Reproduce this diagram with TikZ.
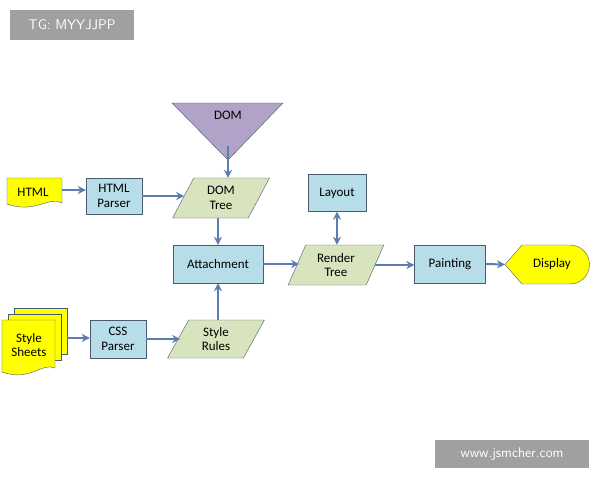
\documentclass[tikz,border=0pt]{standalone}
\usepackage{fontspec}
\setmainfont{Carlito}
\usetikzlibrary{shapes.geometric,arrows.meta}
\definecolor{bx}{HTML}{B7DDE8}
\definecolor{gr}{HTML}{D7E4BD}
\definecolor{yl}{HTML}{FFFF00}
\definecolor{pu}{HTML}{B3A2C7}
\definecolor{ar}{HTML}{5B7DB0}
\definecolor{ed}{HTML}{4A5A70}
\definecolor{wm}{HTML}{A0A0A0}
\begin{document}
\begin{tikzpicture}[x=1pt,y=-1pt,font=\fontsize{13}{14.5}\selectfont,
 box/.style={draw=ed,fill=bx,align=center,inner sep=0pt},
 par/.style={trapezium,trapezium left angle=65,trapezium right angle=115,draw=ed,fill=gr,align=center,inner sep=0pt,trapezium stretches=true},
 lab/.style={align=center,inner sep=0pt},
 arr/.style={draw=ar,line width=2pt,-{Stealth[length=8pt,width=8pt]}}]
\useasboundingbox (0,0) rectangle (600,480);
\fill[white] (0,0) rectangle (600,480);
% watermarks
\node[fill=wm,text=white,minimum width=124,minimum height=30,inner sep=0pt,font=\fontfamily{lmss}\fontsize{14}{16}\selectfont] (wm1) at (72,25) {TG: MYYJJPP};
\node[fill=wm,text=white,minimum width=154,minimum height=28,inner sep=0pt,font=\fontfamily{lmss}\fontsize{14}{16}\selectfont] (wm2) at (512,454) {www.jsmcher.com};
% DOM triangle
\draw[draw=ed,fill=pu] (172,103) -- (283,103) -- (228,160) -- cycle;
\node[lab] (domt) at (228,115) {DOM};
\coordinate (dom) at (228,146);
% HTML doc
\draw[draw=ed,fill=yl] (7,178) -- (62,178) -- (62,203) .. controls (48,196) and (35,214) .. (7,204) -- cycle;
\node[lab] (html) at (33,192) {HTML};
\coordinate (htmlr) at (62,190);
% boxes
\node[box,minimum width=56,minimum height=36] (hp) at (114,196) {HTML\\Parser};
\node[par,minimum width=97,minimum height=40] (dt) at (221,198) {DOM\\Tree};
\node[box,minimum width=58,minimum height=37] (lay) at (337,193) {Layout};
\node[box,minimum width=90,minimum height=38] (att) at (218,264) {Attachment};
\node[par,minimum width=96,minimum height=40] (rt) at (336,265) {Render\\Tree};
\node[box,minimum width=71,minimum height=38] (pt) at (450,264) {Painting};
\node[box,minimum width=56,minimum height=38] (cp) at (118,339) {CSS\\Parser};
\node[par,minimum width=97,minimum height=38] (sr) at (216,339) {Style\\Rules};
% Display
\draw[draw=ed,fill=yl] (505,264.5) -- (522,245) -- (570,245) arc (-90:90:19.5) -- (522,284) -- cycle;
\node[lab] (disp) at (552,264.5) {Display};
\coordinate (displ) at (505,264.5);
% Style sheets
\foreach \d in {12,6}{
 \draw[draw=ed,fill=yl] (2+\d,320-\d) -- (55+\d,320-\d) -- (55+\d,366-\d) -- (2+\d,366-\d) -- cycle;}
\draw[draw=ed,fill=yl] (2,320) -- (55,320) -- (55,368) .. controls (42,362) and (30,382) .. (2,372) -- cycle;
\node[lab] (ss) at (29,345) {Style\\Sheets};
\coordinate (ssr) at (67,338);
% arrows
\draw[arr] (htmlr) -- (hp.west|-htmlr);
\draw[arr] (hp.east) -- ++(42,0);
\draw[arr] (dom) -- (dom|-dt.north);
\draw[arr] (dt.south-|att.north) -- (att.north);
\draw[arr] (sr.north-|att.south) -- (att.south);
\draw[arr] (ssr) -- (cp.west|-ssr);
\draw[arr] (cp.east) -- ++(34,0);
\draw[arr] (att.east) -- ++(36,0);
\draw[arr,{Stealth[length=8pt,width=8pt]}-{Stealth[length=8pt,width=8pt]}] (lay.south) -- (rt.north-|lay.south);
\draw[arr] (rt.east) -- (pt.west|-rt.east);
\draw[arr] (pt.east) -- (displ);
\end{tikzpicture}
\end{document}
